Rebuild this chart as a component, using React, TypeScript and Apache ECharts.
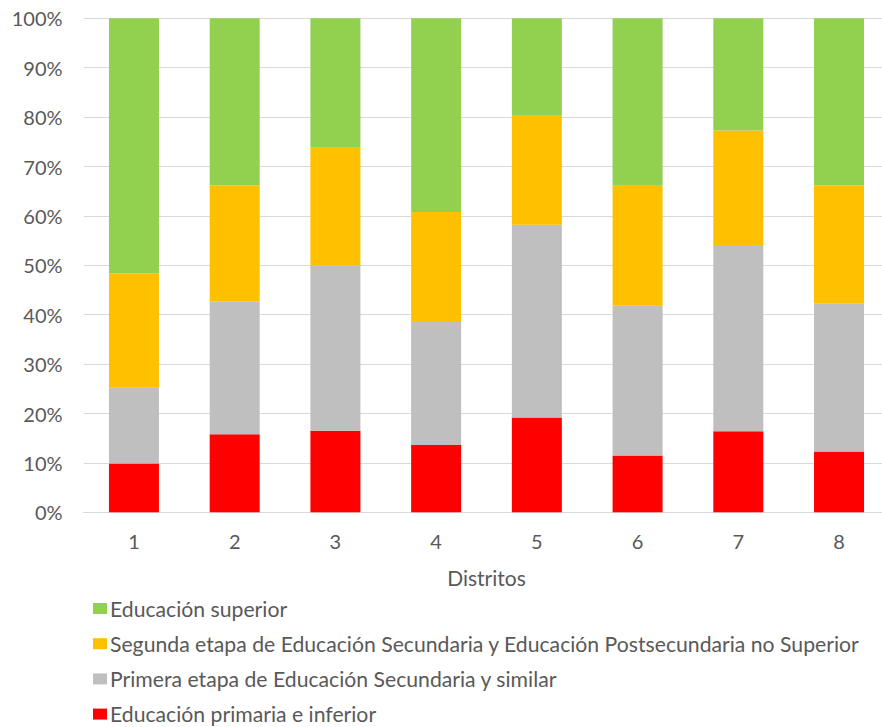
import React, { useEffect, useRef } from "react";
import * as echarts from "echarts";

// District labels on the category axis
const distritos = ["1", "2", "3", "4", "5", "6", "7", "8"];

// Share of population (%) by educational level, per district
const primariaInferior = [9.9, 15.8, 16.5, 13.6, 19.2, 11.5, 16.4, 12.3];
const primeraEtapa = [15.3, 26.9, 33.5, 24.9, 39.0, 30.3, 37.7, 29.9];
const segundaEtapa = [23.2, 23.5, 23.8, 22.3, 22.2, 24.3, 23.2, 24.0];
const superior = [51.6, 33.8, 26.2, 39.2, 19.6, 33.9, 22.7, 33.8];

const seriesNames = [
  "Educación primaria e inferior",
  "Primera etapa de Educación Secundaria y similar",
  "Segunda etapa de Educación Secundaria y Educación Postsecundaria no Superior",
  "Educación superior",
];
const seriesColors = ["#FF0000", "#BFBFBF", "#FFC000", "#92D050"];

const FONT = "Lato, 'Open Sans', sans-serif";
const TEXT_COLOR = "#595959";

// Chart canvas is a bit larger than the visible frame so the plot
// and legend can run to its edges without wrapping.
const CHART_W = 890;
const CHART_H = 780;

export default function App() {
  const ref = useRef<HTMLDivElement>(null);

  useEffect(() => {
    if (!ref.current) return;
    const chart = echarts.init(ref.current, null, { renderer: "svg" });
    const values = [primariaInferior, primeraEtapa, segundaEtapa, superior];

    chart.setOption({
      animation: false,
      backgroundColor: "#ffffff",
      textStyle: { fontFamily: FONT },
      grid: {
        left: 83.6,
        top: 18.3,
        width: 805.8,
        height: 494,
        containLabel: false,
      },
      legend: {
        orient: "vertical",
        left: 88,
        top: 593,
        itemWidth: 14,
        itemHeight: 11,
        itemGap: 14.2,
        icon: "rect",
        data: [seriesNames[3], seriesNames[2], seriesNames[1], seriesNames[0]],
        textStyle: { fontFamily: FONT, fontSize: 21.2, color: TEXT_COLOR, padding: [0, 0, 0, -2] },
      },
      xAxis: {
        type: "category",
        data: distritos,
        name: "Distritos",
        nameLocation: "middle",
        nameGap: 55,
        nameTextStyle: { fontFamily: FONT, fontSize: 21, color: TEXT_COLOR },
        axisLine: { lineStyle: { color: "#D9D9D9", width: 1 } },
        axisTick: { show: false },
        axisLabel: { fontFamily: FONT, fontSize: 20, color: TEXT_COLOR, margin: 19 },
      },
      yAxis: {
        type: "value",
        min: 0,
        max: 100,
        interval: 10,
        axisLine: { show: false },
        axisTick: { show: false },
        axisLabel: {
          formatter: "{value}%",
          fontFamily: FONT,
          fontSize: 20,
          color: TEXT_COLOR,
          margin: 21,
        },
        splitLine: { lineStyle: { color: "#D9D9D9", width: 1 } },
      },
      series: values.map((data, i) => ({
        name: seriesNames[i],
        type: "bar",
        stack: "total",
        barWidth: 50,
        data,
        itemStyle: { color: seriesColors[i] },
      })),
    });

    return () => chart.dispose();
  }, []);

  return (
    <div
      style={{
        position: "absolute",
        left: 0,
        top: 0,
        width: 882,
        height: 727,
        overflow: "hidden",
      }}
    >
      <div ref={ref} style={{ width: CHART_W, height: CHART_H }} />
    </div>
  );
}
